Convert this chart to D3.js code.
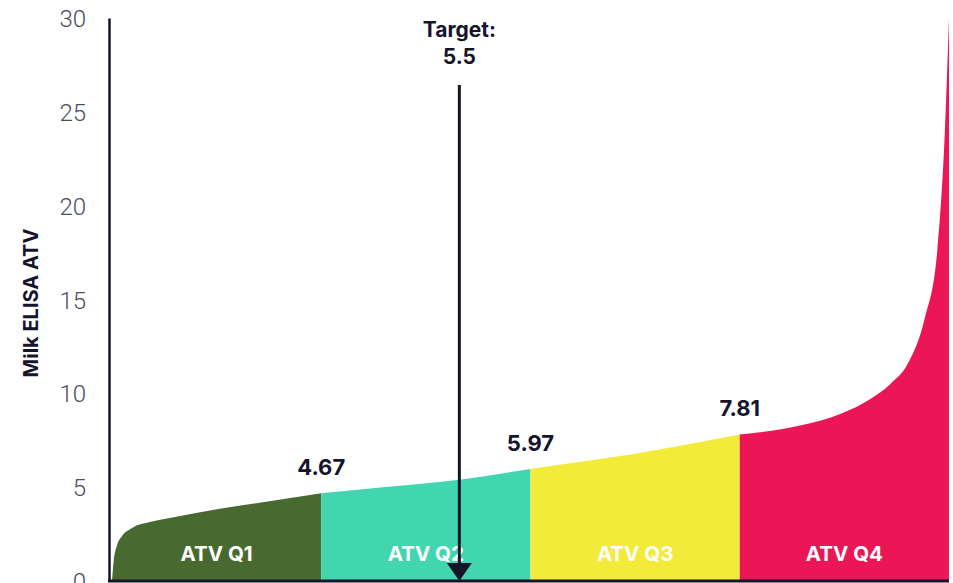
<!DOCTYPE html>
<html>
<head>
  <meta charset="UTF-8"/>
  <title>Milk ELISA ATV</title>
  <style>
    body { margin: 0; background: #fff; font-family: 'Inter', 'Liberation Sans', sans-serif; }
    .tick-lbl { font-family: 'Roboto', 'Inter', sans-serif; font-size: 24px; font-weight: 300; fill: #4a4d5e; }
    .ylabel { font-size: 20px; font-weight: 700; fill: #14142b; }
    .qlabel { font-size: 20.5px; font-weight: 700; fill: #fff; }
    .vlabel { font-size: 22px; font-weight: 700; fill: #14142b; }
  </style>
  <script src="https://d3js.org/d3.v7.min.js"></script>
</head>
<body>
<svg width="953" height="583"></svg>
<script>
// sorted ATV distribution: percentile -> value
var pct  = [0, 0.2, 0.6, 1.2, 2.4, 4.8, 8, 12.7, 18, 25, 33, 41.5, 50, 56, 62.7, 69, 75, 82.2, 87, 90.6, 93, 95.1, 97.1, 98.6, 99.5, 100];
var vals = [0, 1.07, 1.9, 2.4, 2.83, 3.17, 3.45, 3.84, 4.2, 4.67, 5.02, 5.4, 5.97, 6.35, 6.8, 7.3, 7.81, 8.28, 8.9, 9.7, 10.5, 11.6, 14.0, 17.6, 23.9, 30];

var quartiles = ["ATV Q1", "ATV Q2", "ATV Q3", "ATV Q4"];
var qBounds = [0, 25, 50, 75, 100];
var qColors = ["#486a30", "#42d6b0", "#f2eb3a", "#ec1556"];
var cutLabels = ["4.67", "5.97", "7.81"];
var cutValues = [4.67, 5.97, 7.81];
var yTicks = [0, 5, 10, 15, 20, 25, 30];
var targetValue = 5.5, targetPct = 41.5;

var svg = d3.select("svg");
var x = d3.scaleLinear().domain([0, 100]).range([112, 949]);
var y = d3.scaleLinear().domain([0, 30]).range([581, 18]);

var pts = pct.map(function(p, i) { return {p: p, v: vals[i]}; });

var area = d3.area()
  .curve(d3.curveMonotoneX)
  .x(function(d) { return x(d.p); })
  .y0(y(0))
  .y1(function(d) { return y(d.v); });

quartiles.forEach(function(q, i) {
  var lo = qBounds[i], hi = qBounds[i + 1];
  var seg = pts.filter(function(d) { return d.p >= lo && d.p <= hi; });
  svg.append("path")
    .datum(seg)
    .attr("fill", qColors[i])
    .attr("d", area);
  svg.append("text")
    .attr("class", "qlabel")
    .attr("x", x((lo + hi) / 2))
    .attr("y", 561)
    .attr("text-anchor", "middle")
    .text(q);
});

// y axis
var yAxis = svg.append("g")
  .attr("transform", "translate(109,0)")
  .call(d3.axisLeft(y).tickValues(yTicks).tickSize(0).tickPadding(23));
yAxis.select(".domain").attr("stroke", "#14142b").attr("stroke-width", 2.5);
yAxis.selectAll("text").attr("class", "tick-lbl").attr("font-family", null).attr("font-size", null)
  .attr("dy", "0.36em");

// bottom baseline
svg.append("line")
  .attr("x1", 108).attr("x2", 949)
  .attr("y1", y(0)).attr("y2", y(0))
  .attr("stroke", "#14142b").attr("stroke-width", 3);

svg.append("text")
  .attr("class", "ylabel")
  .attr("transform", "translate(38," + 303 + ") rotate(-90)")
  .attr("text-anchor", "middle")
  .text("Milk ELISA ATV");

// quartile cut values
cutValues.forEach(function(v, i) {
  svg.append("text")
    .attr("class", "vlabel")
    .attr("x", x(qBounds[i + 1]))
    .attr("y", y(v) - 18)
    .attr("text-anchor", "middle")
    .text(cutLabels[i]);
});

// target arrow
var tx = x(targetPct);
svg.append("line")
  .attr("x1", tx).attr("x2", tx)
  .attr("y1", 85).attr("y2", 566)
  .attr("stroke", "#14142b").attr("stroke-width", 3);
svg.append("path")
  .attr("d", "M" + (tx - 12.5) + ",563L" + (tx + 12.5) + ",563L" + tx + "," + y(0) + "Z")
  .attr("fill", "#14142b");
svg.append("text")
  .attr("class", "vlabel")
  .attr("x", tx).attr("y", 37)
  .attr("text-anchor", "middle")
  .style("font-size", "21px")
  .text("Target:");
svg.append("text")
  .attr("class", "vlabel")
  .attr("x", tx).attr("y", 64)
  .attr("text-anchor", "middle")
  .style("font-size", "21px")
  .text(targetValue);
</script>
</body>
</html>
